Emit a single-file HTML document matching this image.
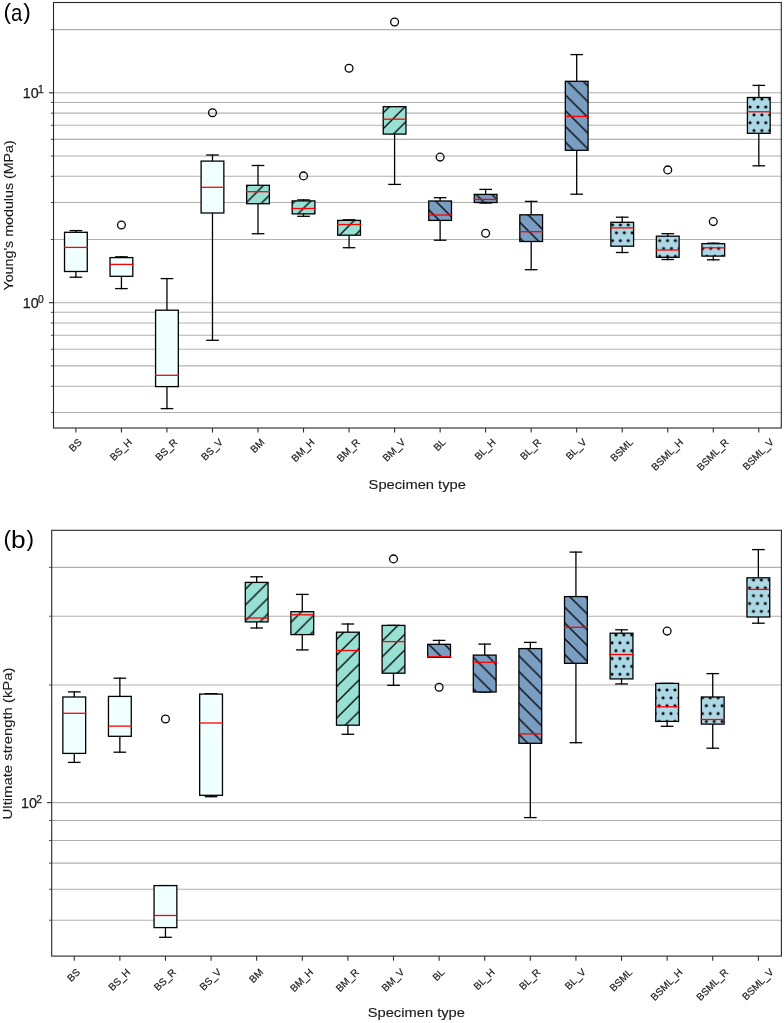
<!DOCTYPE html><html><head><meta charset="utf-8"><style>html,body{margin:0;padding:0;background:#fff;} svg{display:block;will-change:transform;} text{font-family:"Liberation Sans",sans-serif;fill:#1a1a1a;stroke:#1a1a1a;stroke-width:0.25px;} .xt{stroke-width:0.2px;} .al{stroke-width:0.12px;}</style></head><body>
<svg width="784" height="1023" viewBox="0 0 784 1023">
<rect width="784" height="1023" fill="#fff"/>
<defs>
<pattern id="dotsa" patternUnits="userSpaceOnUse" x="754.0" y="99.1" width="7.86" height="15.72"><circle cx="0" cy="0" r="1.55" fill="#000"/><circle cx="7.86" cy="0" r="1.55" fill="#000"/><circle cx="0" cy="15.72" r="1.55" fill="#000"/><circle cx="7.86" cy="15.72" r="1.55" fill="#000"/><circle cx="3.93" cy="7.86" r="1.55" fill="#000"/></pattern>
<pattern id="nea" patternUnits="userSpaceOnUse" x="3.8" y="5.0" width="15.72" height="15.72"><path d="M-1,1 L1,-1 M0,15.72 L15.72,0 M14.72,16.72 L16.72,14.72" stroke="#000" stroke-width="1.3"/></pattern>
<pattern id="nwa" patternUnits="userSpaceOnUse" x="3.8" y="5.0" width="15.72" height="15.72"><path d="M-1,14.72 L1,16.72 M0,0 L15.72,15.72 M14.72,-1 L16.72,1" stroke="#000" stroke-width="1.3"/></pattern>
<pattern id="dotsb" patternUnits="userSpaceOnUse" x="753.5" y="579.9" width="7.86" height="15.72"><circle cx="0" cy="0" r="1.55" fill="#000"/><circle cx="7.86" cy="0" r="1.55" fill="#000"/><circle cx="0" cy="15.72" r="1.55" fill="#000"/><circle cx="7.86" cy="15.72" r="1.55" fill="#000"/><circle cx="3.93" cy="7.86" r="1.55" fill="#000"/></pattern>
<pattern id="neb" patternUnits="userSpaceOnUse" x="3.05" y="-1.55" width="15.72" height="15.72"><path d="M-1,1 L1,-1 M0,15.72 L15.72,0 M14.72,16.72 L16.72,14.72" stroke="#000" stroke-width="1.3"/></pattern>
<pattern id="nwb" patternUnits="userSpaceOnUse" x="3.05" y="-1.55" width="15.72" height="15.72"><path d="M-1,14.72 L1,16.72 M0,0 L15.72,15.72 M14.72,-1 L16.72,1" stroke="#000" stroke-width="1.3"/></pattern>
</defs>
<line x1="53.5" y1="302.70" x2="781.3" y2="302.70" stroke="#b0b0b0" stroke-width="1.05"/>
<line x1="53.5" y1="92.80" x2="781.3" y2="92.80" stroke="#b0b0b0" stroke-width="1.05"/>
<line x1="53.5" y1="412.45" x2="781.3" y2="412.45" stroke="#b0b0b0" stroke-width="1.05"/>
<line x1="53.5" y1="386.23" x2="781.3" y2="386.23" stroke="#b0b0b0" stroke-width="1.05"/>
<line x1="53.5" y1="365.89" x2="781.3" y2="365.89" stroke="#b0b0b0" stroke-width="1.05"/>
<line x1="53.5" y1="349.27" x2="781.3" y2="349.27" stroke="#b0b0b0" stroke-width="1.05"/>
<line x1="53.5" y1="335.21" x2="781.3" y2="335.21" stroke="#b0b0b0" stroke-width="1.05"/>
<line x1="53.5" y1="323.04" x2="781.3" y2="323.04" stroke="#b0b0b0" stroke-width="1.05"/>
<line x1="53.5" y1="312.30" x2="781.3" y2="312.30" stroke="#b0b0b0" stroke-width="1.05"/>
<line x1="53.5" y1="239.51" x2="781.3" y2="239.51" stroke="#b0b0b0" stroke-width="1.05"/>
<line x1="53.5" y1="202.55" x2="781.3" y2="202.55" stroke="#b0b0b0" stroke-width="1.05"/>
<line x1="53.5" y1="176.33" x2="781.3" y2="176.33" stroke="#b0b0b0" stroke-width="1.05"/>
<line x1="53.5" y1="155.99" x2="781.3" y2="155.99" stroke="#b0b0b0" stroke-width="1.05"/>
<line x1="53.5" y1="139.37" x2="781.3" y2="139.37" stroke="#b0b0b0" stroke-width="1.05"/>
<line x1="53.5" y1="125.31" x2="781.3" y2="125.31" stroke="#b0b0b0" stroke-width="1.05"/>
<line x1="53.5" y1="113.14" x2="781.3" y2="113.14" stroke="#b0b0b0" stroke-width="1.05"/>
<line x1="53.5" y1="102.40" x2="781.3" y2="102.40" stroke="#b0b0b0" stroke-width="1.05"/>
<line x1="53.5" y1="29.61" x2="781.3" y2="29.61" stroke="#b0b0b0" stroke-width="1.05"/>
<line x1="75.90" y1="230.6" x2="75.90" y2="232.3" stroke="#000" stroke-width="1.3" stroke-linecap="square"/>
<line x1="75.90" y1="271.5" x2="75.90" y2="277.2" stroke="#000" stroke-width="1.3" stroke-linecap="square"/>
<line x1="70.21" y1="230.6" x2="81.59" y2="230.6" stroke="#000" stroke-width="1.3" stroke-linecap="square"/>
<line x1="70.21" y1="277.2" x2="81.59" y2="277.2" stroke="#000" stroke-width="1.3" stroke-linecap="square"/>
<rect x="64.53" y="232.3" width="22.74" height="39.20" fill="#f0ffff"/>
<rect x="64.53" y="232.3" width="22.74" height="39.20" fill="none" stroke="#000" stroke-width="1.3"/>
<line x1="64.53" y1="247.4" x2="87.27" y2="247.4" stroke="#ff0000" stroke-width="1.3" stroke-linecap="square"/>
<line x1="121.43" y1="256.8" x2="121.43" y2="257.6" stroke="#000" stroke-width="1.3" stroke-linecap="square"/>
<line x1="121.43" y1="276.3" x2="121.43" y2="288.6" stroke="#000" stroke-width="1.3" stroke-linecap="square"/>
<line x1="115.74" y1="256.8" x2="127.11" y2="256.8" stroke="#000" stroke-width="1.3" stroke-linecap="square"/>
<line x1="115.74" y1="288.6" x2="127.11" y2="288.6" stroke="#000" stroke-width="1.3" stroke-linecap="square"/>
<rect x="110.06" y="257.6" width="22.74" height="18.70" fill="#f0ffff"/>
<rect x="110.06" y="257.6" width="22.74" height="18.70" fill="none" stroke="#000" stroke-width="1.3"/>
<line x1="110.06" y1="264.4" x2="132.80" y2="264.4" stroke="#ff0000" stroke-width="1.3" stroke-linecap="square"/>
<circle cx="121.43" cy="225.0" r="3.9" fill="none" stroke="#000" stroke-width="1.3"/>
<line x1="166.95" y1="278.6" x2="166.95" y2="310.2" stroke="#000" stroke-width="1.3" stroke-linecap="square"/>
<line x1="166.95" y1="386.6" x2="166.95" y2="408.6" stroke="#000" stroke-width="1.3" stroke-linecap="square"/>
<line x1="161.27" y1="278.6" x2="172.64" y2="278.6" stroke="#000" stroke-width="1.3" stroke-linecap="square"/>
<line x1="161.27" y1="408.6" x2="172.64" y2="408.6" stroke="#000" stroke-width="1.3" stroke-linecap="square"/>
<rect x="155.58" y="310.2" width="22.74" height="76.40" fill="#f0ffff"/>
<rect x="155.58" y="310.2" width="22.74" height="76.40" fill="none" stroke="#000" stroke-width="1.3"/>
<line x1="155.58" y1="375.3" x2="178.33" y2="375.3" stroke="#ff0000" stroke-width="1.3" stroke-linecap="square"/>
<line x1="212.48" y1="155.0" x2="212.48" y2="161.1" stroke="#000" stroke-width="1.3" stroke-linecap="square"/>
<line x1="212.48" y1="213.0" x2="212.48" y2="340.3" stroke="#000" stroke-width="1.3" stroke-linecap="square"/>
<line x1="206.80" y1="155.0" x2="218.17" y2="155.0" stroke="#000" stroke-width="1.3" stroke-linecap="square"/>
<line x1="206.80" y1="340.3" x2="218.17" y2="340.3" stroke="#000" stroke-width="1.3" stroke-linecap="square"/>
<rect x="201.11" y="161.1" width="22.74" height="51.90" fill="#f0ffff"/>
<rect x="201.11" y="161.1" width="22.74" height="51.90" fill="none" stroke="#000" stroke-width="1.3"/>
<line x1="201.11" y1="187.3" x2="223.85" y2="187.3" stroke="#ff0000" stroke-width="1.3" stroke-linecap="square"/>
<circle cx="212.48" cy="112.7" r="3.9" fill="none" stroke="#000" stroke-width="1.3"/>
<line x1="258.01" y1="165.5" x2="258.01" y2="185.3" stroke="#000" stroke-width="1.3" stroke-linecap="square"/>
<line x1="258.01" y1="203.7" x2="258.01" y2="233.7" stroke="#000" stroke-width="1.3" stroke-linecap="square"/>
<line x1="252.32" y1="165.5" x2="263.69" y2="165.5" stroke="#000" stroke-width="1.3" stroke-linecap="square"/>
<line x1="252.32" y1="233.7" x2="263.69" y2="233.7" stroke="#000" stroke-width="1.3" stroke-linecap="square"/>
<rect x="246.64" y="185.3" width="22.74" height="18.40" fill="#98e0d4"/>
<rect x="246.64" y="185.3" width="22.74" height="18.40" fill="url(#nea)"/>
<rect x="246.64" y="185.3" width="22.74" height="18.40" fill="none" stroke="#000" stroke-width="1.3"/>
<line x1="246.64" y1="191.7" x2="269.38" y2="191.7" stroke="#ff0000" stroke-width="1.3" stroke-linecap="square"/>
<line x1="303.53" y1="199.9" x2="303.53" y2="200.9" stroke="#000" stroke-width="1.3" stroke-linecap="square"/>
<line x1="303.53" y1="213.9" x2="303.53" y2="216.3" stroke="#000" stroke-width="1.3" stroke-linecap="square"/>
<line x1="297.85" y1="199.9" x2="309.22" y2="199.9" stroke="#000" stroke-width="1.3" stroke-linecap="square"/>
<line x1="297.85" y1="216.3" x2="309.22" y2="216.3" stroke="#000" stroke-width="1.3" stroke-linecap="square"/>
<rect x="292.16" y="200.9" width="22.74" height="13.00" fill="#98e0d4"/>
<rect x="292.16" y="200.9" width="22.74" height="13.00" fill="url(#nea)"/>
<rect x="292.16" y="200.9" width="22.74" height="13.00" fill="none" stroke="#000" stroke-width="1.3"/>
<line x1="292.16" y1="208.5" x2="314.91" y2="208.5" stroke="#ff0000" stroke-width="1.3" stroke-linecap="square"/>
<circle cx="303.53" cy="175.9" r="3.9" fill="none" stroke="#000" stroke-width="1.3"/>
<line x1="349.06" y1="219.8" x2="349.06" y2="220.4" stroke="#000" stroke-width="1.3" stroke-linecap="square"/>
<line x1="349.06" y1="235.2" x2="349.06" y2="247.7" stroke="#000" stroke-width="1.3" stroke-linecap="square"/>
<line x1="343.38" y1="219.8" x2="354.75" y2="219.8" stroke="#000" stroke-width="1.3" stroke-linecap="square"/>
<line x1="343.38" y1="247.7" x2="354.75" y2="247.7" stroke="#000" stroke-width="1.3" stroke-linecap="square"/>
<rect x="337.69" y="220.4" width="22.74" height="14.80" fill="#98e0d4"/>
<rect x="337.69" y="220.4" width="22.74" height="14.80" fill="url(#nea)"/>
<rect x="337.69" y="220.4" width="22.74" height="14.80" fill="none" stroke="#000" stroke-width="1.3"/>
<line x1="337.69" y1="224.5" x2="360.43" y2="224.5" stroke="#ff0000" stroke-width="1.3" stroke-linecap="square"/>
<circle cx="349.06" cy="68.3" r="3.9" fill="none" stroke="#000" stroke-width="1.3"/>
<line x1="394.59" y1="106.7" x2="394.59" y2="106.7" stroke="#000" stroke-width="1.3" stroke-linecap="square"/>
<line x1="394.59" y1="134.1" x2="394.59" y2="184.4" stroke="#000" stroke-width="1.3" stroke-linecap="square"/>
<line x1="388.90" y1="106.7" x2="400.27" y2="106.7" stroke="#000" stroke-width="1.3" stroke-linecap="square"/>
<line x1="388.90" y1="184.4" x2="400.27" y2="184.4" stroke="#000" stroke-width="1.3" stroke-linecap="square"/>
<rect x="383.22" y="106.7" width="22.74" height="27.40" fill="#98e0d4"/>
<rect x="383.22" y="106.7" width="22.74" height="27.40" fill="url(#nea)"/>
<rect x="383.22" y="106.7" width="22.74" height="27.40" fill="none" stroke="#000" stroke-width="1.3"/>
<line x1="383.22" y1="119.2" x2="405.96" y2="119.2" stroke="#ff0000" stroke-width="1.3" stroke-linecap="square"/>
<circle cx="394.59" cy="22.0" r="3.9" fill="none" stroke="#000" stroke-width="1.3"/>
<line x1="440.12" y1="197.7" x2="440.12" y2="201.0" stroke="#000" stroke-width="1.3" stroke-linecap="square"/>
<line x1="440.12" y1="220.4" x2="440.12" y2="240.2" stroke="#000" stroke-width="1.3" stroke-linecap="square"/>
<line x1="434.43" y1="197.7" x2="445.80" y2="197.7" stroke="#000" stroke-width="1.3" stroke-linecap="square"/>
<line x1="434.43" y1="240.2" x2="445.80" y2="240.2" stroke="#000" stroke-width="1.3" stroke-linecap="square"/>
<rect x="428.74" y="201.0" width="22.74" height="19.40" fill="#7a9ec2"/>
<rect x="428.74" y="201.0" width="22.74" height="19.40" fill="url(#nwa)"/>
<rect x="428.74" y="201.0" width="22.74" height="19.40" fill="none" stroke="#000" stroke-width="1.3"/>
<line x1="428.74" y1="215.0" x2="451.49" y2="215.0" stroke="#ff0000" stroke-width="1.3" stroke-linecap="square"/>
<circle cx="440.12" cy="157.1" r="3.9" fill="none" stroke="#000" stroke-width="1.3"/>
<line x1="485.64" y1="189.4" x2="485.64" y2="194.4" stroke="#000" stroke-width="1.3" stroke-linecap="square"/>
<line x1="485.64" y1="202.5" x2="485.64" y2="203.0" stroke="#000" stroke-width="1.3" stroke-linecap="square"/>
<line x1="479.96" y1="189.4" x2="491.33" y2="189.4" stroke="#000" stroke-width="1.3" stroke-linecap="square"/>
<line x1="479.96" y1="203.0" x2="491.33" y2="203.0" stroke="#000" stroke-width="1.3" stroke-linecap="square"/>
<rect x="474.27" y="194.4" width="22.74" height="8.10" fill="#7a9ec2"/>
<rect x="474.27" y="194.4" width="22.74" height="8.10" fill="url(#nwa)"/>
<rect x="474.27" y="194.4" width="22.74" height="8.10" fill="none" stroke="#000" stroke-width="1.3"/>
<line x1="474.27" y1="199.4" x2="497.01" y2="199.4" stroke="#ff0000" stroke-width="1.3" stroke-linecap="square"/>
<circle cx="485.64" cy="233.2" r="3.9" fill="none" stroke="#000" stroke-width="1.3"/>
<line x1="531.17" y1="201.4" x2="531.17" y2="214.8" stroke="#000" stroke-width="1.3" stroke-linecap="square"/>
<line x1="531.17" y1="241.5" x2="531.17" y2="269.7" stroke="#000" stroke-width="1.3" stroke-linecap="square"/>
<line x1="525.48" y1="201.4" x2="536.86" y2="201.4" stroke="#000" stroke-width="1.3" stroke-linecap="square"/>
<line x1="525.48" y1="269.7" x2="536.86" y2="269.7" stroke="#000" stroke-width="1.3" stroke-linecap="square"/>
<rect x="519.80" y="214.8" width="22.74" height="26.70" fill="#7a9ec2"/>
<rect x="519.80" y="214.8" width="22.74" height="26.70" fill="url(#nwa)"/>
<rect x="519.80" y="214.8" width="22.74" height="26.70" fill="none" stroke="#000" stroke-width="1.3"/>
<line x1="519.80" y1="231.7" x2="542.54" y2="231.7" stroke="#ff0000" stroke-width="1.3" stroke-linecap="square"/>
<line x1="576.70" y1="54.6" x2="576.70" y2="81.3" stroke="#000" stroke-width="1.3" stroke-linecap="square"/>
<line x1="576.70" y1="150.3" x2="576.70" y2="194.2" stroke="#000" stroke-width="1.3" stroke-linecap="square"/>
<line x1="571.01" y1="54.6" x2="582.38" y2="54.6" stroke="#000" stroke-width="1.3" stroke-linecap="square"/>
<line x1="571.01" y1="194.2" x2="582.38" y2="194.2" stroke="#000" stroke-width="1.3" stroke-linecap="square"/>
<rect x="565.33" y="81.3" width="22.74" height="69.00" fill="#7a9ec2"/>
<rect x="565.33" y="81.3" width="22.74" height="69.00" fill="url(#nwa)"/>
<rect x="565.33" y="81.3" width="22.74" height="69.00" fill="none" stroke="#000" stroke-width="1.3"/>
<line x1="565.33" y1="116.4" x2="588.07" y2="116.4" stroke="#ff0000" stroke-width="1.3" stroke-linecap="square"/>
<line x1="622.22" y1="217.2" x2="622.22" y2="222.3" stroke="#000" stroke-width="1.3" stroke-linecap="square"/>
<line x1="622.22" y1="246.2" x2="622.22" y2="252.5" stroke="#000" stroke-width="1.3" stroke-linecap="square"/>
<line x1="616.54" y1="217.2" x2="627.91" y2="217.2" stroke="#000" stroke-width="1.3" stroke-linecap="square"/>
<line x1="616.54" y1="252.5" x2="627.91" y2="252.5" stroke="#000" stroke-width="1.3" stroke-linecap="square"/>
<rect x="610.85" y="222.3" width="22.74" height="23.90" fill="#add8e6"/>
<rect x="610.85" y="222.3" width="22.74" height="23.90" fill="url(#dotsa)"/>
<rect x="610.85" y="222.3" width="22.74" height="23.90" fill="none" stroke="#000" stroke-width="1.3"/>
<line x1="610.85" y1="227.9" x2="633.60" y2="227.9" stroke="#ff0000" stroke-width="1.3" stroke-linecap="square"/>
<line x1="667.75" y1="233.7" x2="667.75" y2="236.2" stroke="#000" stroke-width="1.3" stroke-linecap="square"/>
<line x1="667.75" y1="257.3" x2="667.75" y2="259.5" stroke="#000" stroke-width="1.3" stroke-linecap="square"/>
<line x1="662.07" y1="233.7" x2="673.44" y2="233.7" stroke="#000" stroke-width="1.3" stroke-linecap="square"/>
<line x1="662.07" y1="259.5" x2="673.44" y2="259.5" stroke="#000" stroke-width="1.3" stroke-linecap="square"/>
<rect x="656.38" y="236.2" width="22.74" height="21.10" fill="#add8e6"/>
<rect x="656.38" y="236.2" width="22.74" height="21.10" fill="url(#dotsa)"/>
<rect x="656.38" y="236.2" width="22.74" height="21.10" fill="none" stroke="#000" stroke-width="1.3"/>
<line x1="656.38" y1="250.0" x2="679.12" y2="250.0" stroke="#ff0000" stroke-width="1.3" stroke-linecap="square"/>
<circle cx="667.75" cy="169.9" r="3.9" fill="none" stroke="#000" stroke-width="1.3"/>
<line x1="713.28" y1="243.2" x2="713.28" y2="243.7" stroke="#000" stroke-width="1.3" stroke-linecap="square"/>
<line x1="713.28" y1="256.1" x2="713.28" y2="259.8" stroke="#000" stroke-width="1.3" stroke-linecap="square"/>
<line x1="707.59" y1="243.2" x2="718.96" y2="243.2" stroke="#000" stroke-width="1.3" stroke-linecap="square"/>
<line x1="707.59" y1="259.8" x2="718.96" y2="259.8" stroke="#000" stroke-width="1.3" stroke-linecap="square"/>
<rect x="701.91" y="243.7" width="22.74" height="12.40" fill="#add8e6"/>
<rect x="701.91" y="243.7" width="22.74" height="12.40" fill="url(#dotsa)"/>
<rect x="701.91" y="243.7" width="22.74" height="12.40" fill="none" stroke="#000" stroke-width="1.3"/>
<line x1="701.91" y1="247.8" x2="724.65" y2="247.8" stroke="#ff0000" stroke-width="1.3" stroke-linecap="square"/>
<circle cx="713.28" cy="221.6" r="3.9" fill="none" stroke="#000" stroke-width="1.3"/>
<line x1="758.80" y1="85.4" x2="758.80" y2="97.5" stroke="#000" stroke-width="1.3" stroke-linecap="square"/>
<line x1="758.80" y1="133.3" x2="758.80" y2="165.8" stroke="#000" stroke-width="1.3" stroke-linecap="square"/>
<line x1="753.12" y1="85.4" x2="764.49" y2="85.4" stroke="#000" stroke-width="1.3" stroke-linecap="square"/>
<line x1="753.12" y1="165.8" x2="764.49" y2="165.8" stroke="#000" stroke-width="1.3" stroke-linecap="square"/>
<rect x="747.43" y="97.5" width="22.74" height="35.80" fill="#add8e6"/>
<rect x="747.43" y="97.5" width="22.74" height="35.80" fill="url(#dotsa)"/>
<rect x="747.43" y="97.5" width="22.74" height="35.80" fill="none" stroke="#000" stroke-width="1.3"/>
<line x1="747.43" y1="111.8" x2="770.18" y2="111.8" stroke="#ff0000" stroke-width="1.3" stroke-linecap="square"/>
<rect x="53.5" y="2.5" width="727.8" height="425.5" fill="none" stroke="#262626" stroke-width="1.1"/>
<line x1="48.9" y1="302.70" x2="53.5" y2="302.70" stroke="#262626" stroke-width="1.05"/>
<line x1="48.9" y1="92.80" x2="53.5" y2="92.80" stroke="#262626" stroke-width="1.05"/>
<line x1="50.8" y1="412.45" x2="53.5" y2="412.45" stroke="#262626" stroke-width="0.8"/>
<line x1="50.8" y1="386.23" x2="53.5" y2="386.23" stroke="#262626" stroke-width="0.8"/>
<line x1="50.8" y1="365.89" x2="53.5" y2="365.89" stroke="#262626" stroke-width="0.8"/>
<line x1="50.8" y1="349.27" x2="53.5" y2="349.27" stroke="#262626" stroke-width="0.8"/>
<line x1="50.8" y1="335.21" x2="53.5" y2="335.21" stroke="#262626" stroke-width="0.8"/>
<line x1="50.8" y1="323.04" x2="53.5" y2="323.04" stroke="#262626" stroke-width="0.8"/>
<line x1="50.8" y1="312.30" x2="53.5" y2="312.30" stroke="#262626" stroke-width="0.8"/>
<line x1="50.8" y1="239.51" x2="53.5" y2="239.51" stroke="#262626" stroke-width="0.8"/>
<line x1="50.8" y1="202.55" x2="53.5" y2="202.55" stroke="#262626" stroke-width="0.8"/>
<line x1="50.8" y1="176.33" x2="53.5" y2="176.33" stroke="#262626" stroke-width="0.8"/>
<line x1="50.8" y1="155.99" x2="53.5" y2="155.99" stroke="#262626" stroke-width="0.8"/>
<line x1="50.8" y1="139.37" x2="53.5" y2="139.37" stroke="#262626" stroke-width="0.8"/>
<line x1="50.8" y1="125.31" x2="53.5" y2="125.31" stroke="#262626" stroke-width="0.8"/>
<line x1="50.8" y1="113.14" x2="53.5" y2="113.14" stroke="#262626" stroke-width="0.8"/>
<line x1="50.8" y1="102.40" x2="53.5" y2="102.40" stroke="#262626" stroke-width="0.8"/>
<line x1="50.8" y1="29.61" x2="53.5" y2="29.61" stroke="#262626" stroke-width="0.8"/>
<text x="22.80" y="307.50" font-size="14.6" textLength="16.0" lengthAdjust="spacingAndGlyphs" class="tl">10</text>
<text x="43.80" y="303.10" text-anchor="end" font-size="10.3" class="tl">0</text>
<text x="22.80" y="97.60" font-size="14.6" textLength="16.0" lengthAdjust="spacingAndGlyphs" class="tl">10</text>
<text x="43.80" y="93.20" text-anchor="end" font-size="10.3" class="tl">1</text>
<line x1="75.90" y1="428.0" x2="75.90" y2="432.6" stroke="#262626" stroke-width="1.05"/>
<text class="xt" transform="translate(77.74,447.59) rotate(-45)" text-anchor="middle" font-size="10.0">BS</text>
<line x1="121.43" y1="428.0" x2="121.43" y2="432.6" stroke="#262626" stroke-width="1.05"/>
<text class="xt" transform="translate(123.27,452.11) rotate(-45)" text-anchor="middle" font-size="10.0">BS_H</text>
<line x1="166.95" y1="428.0" x2="166.95" y2="432.6" stroke="#262626" stroke-width="1.05"/>
<text class="xt" transform="translate(168.79,452.11) rotate(-45)" text-anchor="middle" font-size="10.0">BS_R</text>
<line x1="212.48" y1="428.0" x2="212.48" y2="432.6" stroke="#262626" stroke-width="1.05"/>
<text class="xt" transform="translate(214.32,451.92) rotate(-45)" text-anchor="middle" font-size="10.0">BS_V</text>
<line x1="258.01" y1="428.0" x2="258.01" y2="432.6" stroke="#262626" stroke-width="1.05"/>
<text class="xt" transform="translate(259.85,448.18) rotate(-45)" text-anchor="middle" font-size="10.0">BM</text>
<line x1="303.53" y1="428.0" x2="303.53" y2="432.6" stroke="#262626" stroke-width="1.05"/>
<text class="xt" transform="translate(305.37,452.70) rotate(-45)" text-anchor="middle" font-size="10.0">BM_H</text>
<line x1="349.06" y1="428.0" x2="349.06" y2="432.6" stroke="#262626" stroke-width="1.05"/>
<text class="xt" transform="translate(350.90,452.70) rotate(-45)" text-anchor="middle" font-size="10.0">BM_R</text>
<line x1="394.59" y1="428.0" x2="394.59" y2="432.6" stroke="#262626" stroke-width="1.05"/>
<text class="xt" transform="translate(396.43,452.50) rotate(-45)" text-anchor="middle" font-size="10.0">BM_V</text>
<line x1="440.12" y1="428.0" x2="440.12" y2="432.6" stroke="#262626" stroke-width="1.05"/>
<text class="xt" transform="translate(441.96,447.20) rotate(-45)" text-anchor="middle" font-size="10.0">BL</text>
<line x1="485.64" y1="428.0" x2="485.64" y2="432.6" stroke="#262626" stroke-width="1.05"/>
<text class="xt" transform="translate(487.48,451.72) rotate(-45)" text-anchor="middle" font-size="10.0">BL_H</text>
<line x1="531.17" y1="428.0" x2="531.17" y2="432.6" stroke="#262626" stroke-width="1.05"/>
<text class="xt" transform="translate(533.01,451.72) rotate(-45)" text-anchor="middle" font-size="10.0">BL_R</text>
<line x1="576.70" y1="428.0" x2="576.70" y2="432.6" stroke="#262626" stroke-width="1.05"/>
<text class="xt" transform="translate(578.54,451.52) rotate(-45)" text-anchor="middle" font-size="10.0">BL_V</text>
<line x1="622.22" y1="428.0" x2="622.22" y2="432.6" stroke="#262626" stroke-width="1.05"/>
<text class="xt" transform="translate(624.06,452.50) rotate(-45)" text-anchor="middle" font-size="10.0">BSML</text>
<line x1="667.75" y1="428.0" x2="667.75" y2="432.6" stroke="#262626" stroke-width="1.05"/>
<text class="xt" transform="translate(669.59,457.02) rotate(-45)" text-anchor="middle" font-size="10.0">BSML_H</text>
<line x1="713.28" y1="428.0" x2="713.28" y2="432.6" stroke="#262626" stroke-width="1.05"/>
<text class="xt" transform="translate(715.12,457.02) rotate(-45)" text-anchor="middle" font-size="10.0">BSML_R</text>
<line x1="758.80" y1="428.0" x2="758.80" y2="432.6" stroke="#262626" stroke-width="1.05"/>
<text class="xt" transform="translate(760.64,456.83) rotate(-45)" text-anchor="middle" font-size="10.0">BSML_V</text>
<text x="368.6" y="489.1" font-size="13.6" textLength="97.3" lengthAdjust="spacingAndGlyphs" class="al">Specimen type</text>
<text transform="translate(13.4,290.5) rotate(-90)" font-size="13.6" textLength="150.3" lengthAdjust="spacingAndGlyphs" class="al">Young's modulus (MPa)</text>
<text x="3.4" y="19.10" font-size="22.6" style="stroke:none;fill:#000">(</text>
<text x="11.0" y="20.90" font-size="23.8" textLength="11.3" lengthAdjust="spacingAndGlyphs" style="stroke:none;fill:#000">a</text>
<text x="23.20" y="19.10" font-size="22.6" style="stroke:none;fill:#000">)</text>
<line x1="51.7" y1="802.60" x2="781.4" y2="802.60" stroke="#b0b0b0" stroke-width="1.05"/>
<line x1="51.7" y1="920.21" x2="781.4" y2="920.21" stroke="#b0b0b0" stroke-width="1.05"/>
<line x1="51.7" y1="889.28" x2="781.4" y2="889.28" stroke="#b0b0b0" stroke-width="1.05"/>
<line x1="51.7" y1="863.12" x2="781.4" y2="863.12" stroke="#b0b0b0" stroke-width="1.05"/>
<line x1="51.7" y1="840.46" x2="781.4" y2="840.46" stroke="#b0b0b0" stroke-width="1.05"/>
<line x1="51.7" y1="820.48" x2="781.4" y2="820.48" stroke="#b0b0b0" stroke-width="1.05"/>
<line x1="51.7" y1="684.99" x2="781.4" y2="684.99" stroke="#b0b0b0" stroke-width="1.05"/>
<line x1="51.7" y1="616.19" x2="781.4" y2="616.19" stroke="#b0b0b0" stroke-width="1.05"/>
<line x1="51.7" y1="567.38" x2="781.4" y2="567.38" stroke="#b0b0b0" stroke-width="1.05"/>
<line x1="74.25" y1="691.9" x2="74.25" y2="697.0" stroke="#000" stroke-width="1.3" stroke-linecap="square"/>
<line x1="74.25" y1="753.4" x2="74.25" y2="762.4" stroke="#000" stroke-width="1.3" stroke-linecap="square"/>
<line x1="68.55" y1="691.9" x2="79.95" y2="691.9" stroke="#000" stroke-width="1.3" stroke-linecap="square"/>
<line x1="68.55" y1="762.4" x2="79.95" y2="762.4" stroke="#000" stroke-width="1.3" stroke-linecap="square"/>
<rect x="62.85" y="697.0" width="22.80" height="56.40" fill="#f0ffff"/>
<rect x="62.85" y="697.0" width="22.80" height="56.40" fill="none" stroke="#000" stroke-width="1.3"/>
<line x1="62.85" y1="713.3" x2="85.65" y2="713.3" stroke="#ff0000" stroke-width="1.3" stroke-linecap="square"/>
<line x1="119.86" y1="678.2" x2="119.86" y2="696.4" stroke="#000" stroke-width="1.3" stroke-linecap="square"/>
<line x1="119.86" y1="736.3" x2="119.86" y2="752.2" stroke="#000" stroke-width="1.3" stroke-linecap="square"/>
<line x1="114.16" y1="678.2" x2="125.56" y2="678.2" stroke="#000" stroke-width="1.3" stroke-linecap="square"/>
<line x1="114.16" y1="752.2" x2="125.56" y2="752.2" stroke="#000" stroke-width="1.3" stroke-linecap="square"/>
<rect x="108.46" y="696.4" width="22.80" height="39.90" fill="#f0ffff"/>
<rect x="108.46" y="696.4" width="22.80" height="39.90" fill="none" stroke="#000" stroke-width="1.3"/>
<line x1="108.46" y1="726.1" x2="131.26" y2="726.1" stroke="#ff0000" stroke-width="1.3" stroke-linecap="square"/>
<line x1="165.46" y1="885.6" x2="165.46" y2="885.6" stroke="#000" stroke-width="1.3" stroke-linecap="square"/>
<line x1="165.46" y1="927.6" x2="165.46" y2="937.3" stroke="#000" stroke-width="1.3" stroke-linecap="square"/>
<line x1="159.76" y1="885.6" x2="171.16" y2="885.6" stroke="#000" stroke-width="1.3" stroke-linecap="square"/>
<line x1="159.76" y1="937.3" x2="171.16" y2="937.3" stroke="#000" stroke-width="1.3" stroke-linecap="square"/>
<rect x="154.06" y="885.6" width="22.80" height="42.00" fill="#f0ffff"/>
<rect x="154.06" y="885.6" width="22.80" height="42.00" fill="none" stroke="#000" stroke-width="1.3"/>
<line x1="154.06" y1="915.5" x2="176.87" y2="915.5" stroke="#ff0000" stroke-width="1.3" stroke-linecap="square"/>
<circle cx="165.46" cy="719.0" r="3.9" fill="none" stroke="#000" stroke-width="1.3"/>
<line x1="211.07" y1="693.7" x2="211.07" y2="694.1" stroke="#000" stroke-width="1.3" stroke-linecap="square"/>
<line x1="211.07" y1="795.3" x2="211.07" y2="796.7" stroke="#000" stroke-width="1.3" stroke-linecap="square"/>
<line x1="205.37" y1="693.7" x2="216.77" y2="693.7" stroke="#000" stroke-width="1.3" stroke-linecap="square"/>
<line x1="205.37" y1="796.7" x2="216.77" y2="796.7" stroke="#000" stroke-width="1.3" stroke-linecap="square"/>
<rect x="199.67" y="694.1" width="22.80" height="101.20" fill="#f0ffff"/>
<rect x="199.67" y="694.1" width="22.80" height="101.20" fill="none" stroke="#000" stroke-width="1.3"/>
<line x1="199.67" y1="723.0" x2="222.47" y2="723.0" stroke="#ff0000" stroke-width="1.3" stroke-linecap="square"/>
<line x1="256.68" y1="576.8" x2="256.68" y2="582.4" stroke="#000" stroke-width="1.3" stroke-linecap="square"/>
<line x1="256.68" y1="621.9" x2="256.68" y2="628.0" stroke="#000" stroke-width="1.3" stroke-linecap="square"/>
<line x1="250.98" y1="576.8" x2="262.38" y2="576.8" stroke="#000" stroke-width="1.3" stroke-linecap="square"/>
<line x1="250.98" y1="628.0" x2="262.38" y2="628.0" stroke="#000" stroke-width="1.3" stroke-linecap="square"/>
<rect x="245.28" y="582.4" width="22.80" height="39.50" fill="#98e0d4"/>
<rect x="245.28" y="582.4" width="22.80" height="39.50" fill="url(#neb)"/>
<rect x="245.28" y="582.4" width="22.80" height="39.50" fill="none" stroke="#000" stroke-width="1.3"/>
<line x1="245.28" y1="618.0" x2="268.08" y2="618.0" stroke="#ff0000" stroke-width="1.3" stroke-linecap="square"/>
<line x1="302.28" y1="594.4" x2="302.28" y2="611.7" stroke="#000" stroke-width="1.3" stroke-linecap="square"/>
<line x1="302.28" y1="634.6" x2="302.28" y2="649.9" stroke="#000" stroke-width="1.3" stroke-linecap="square"/>
<line x1="296.58" y1="594.4" x2="307.99" y2="594.4" stroke="#000" stroke-width="1.3" stroke-linecap="square"/>
<line x1="296.58" y1="649.9" x2="307.99" y2="649.9" stroke="#000" stroke-width="1.3" stroke-linecap="square"/>
<rect x="290.88" y="611.7" width="22.80" height="22.90" fill="#98e0d4"/>
<rect x="290.88" y="611.7" width="22.80" height="22.90" fill="url(#neb)"/>
<rect x="290.88" y="611.7" width="22.80" height="22.90" fill="none" stroke="#000" stroke-width="1.3"/>
<line x1="290.88" y1="614.8" x2="313.69" y2="614.8" stroke="#ff0000" stroke-width="1.3" stroke-linecap="square"/>
<line x1="347.89" y1="624.0" x2="347.89" y2="632.2" stroke="#000" stroke-width="1.3" stroke-linecap="square"/>
<line x1="347.89" y1="725.2" x2="347.89" y2="734.3" stroke="#000" stroke-width="1.3" stroke-linecap="square"/>
<line x1="342.19" y1="624.0" x2="353.59" y2="624.0" stroke="#000" stroke-width="1.3" stroke-linecap="square"/>
<line x1="342.19" y1="734.3" x2="353.59" y2="734.3" stroke="#000" stroke-width="1.3" stroke-linecap="square"/>
<rect x="336.49" y="632.2" width="22.80" height="93.00" fill="#98e0d4"/>
<rect x="336.49" y="632.2" width="22.80" height="93.00" fill="url(#neb)"/>
<rect x="336.49" y="632.2" width="22.80" height="93.00" fill="none" stroke="#000" stroke-width="1.3"/>
<line x1="336.49" y1="650.5" x2="359.29" y2="650.5" stroke="#ff0000" stroke-width="1.3" stroke-linecap="square"/>
<line x1="393.50" y1="625.4" x2="393.50" y2="625.4" stroke="#000" stroke-width="1.3" stroke-linecap="square"/>
<line x1="393.50" y1="673.2" x2="393.50" y2="685.3" stroke="#000" stroke-width="1.3" stroke-linecap="square"/>
<line x1="387.80" y1="625.4" x2="399.20" y2="625.4" stroke="#000" stroke-width="1.3" stroke-linecap="square"/>
<line x1="387.80" y1="685.3" x2="399.20" y2="685.3" stroke="#000" stroke-width="1.3" stroke-linecap="square"/>
<rect x="382.10" y="625.4" width="22.80" height="47.80" fill="#98e0d4"/>
<rect x="382.10" y="625.4" width="22.80" height="47.80" fill="url(#neb)"/>
<rect x="382.10" y="625.4" width="22.80" height="47.80" fill="none" stroke="#000" stroke-width="1.3"/>
<line x1="382.10" y1="641.6" x2="404.90" y2="641.6" stroke="#ff0000" stroke-width="1.3" stroke-linecap="square"/>
<circle cx="393.50" cy="558.9" r="3.9" fill="none" stroke="#000" stroke-width="1.3"/>
<line x1="439.11" y1="640.4" x2="439.11" y2="644.3" stroke="#000" stroke-width="1.3" stroke-linecap="square"/>
<line x1="439.11" y1="657.3" x2="439.11" y2="657.3" stroke="#000" stroke-width="1.3" stroke-linecap="square"/>
<line x1="433.41" y1="640.4" x2="444.81" y2="640.4" stroke="#000" stroke-width="1.3" stroke-linecap="square"/>
<line x1="433.41" y1="657.3" x2="444.81" y2="657.3" stroke="#000" stroke-width="1.3" stroke-linecap="square"/>
<rect x="427.70" y="644.3" width="22.80" height="13.00" fill="#7a9ec2"/>
<rect x="427.70" y="644.3" width="22.80" height="13.00" fill="url(#nwb)"/>
<rect x="427.70" y="644.3" width="22.80" height="13.00" fill="none" stroke="#000" stroke-width="1.3"/>
<line x1="427.70" y1="656.7" x2="450.51" y2="656.7" stroke="#ff0000" stroke-width="1.3" stroke-linecap="square"/>
<circle cx="439.11" cy="687.2" r="3.9" fill="none" stroke="#000" stroke-width="1.3"/>
<line x1="484.71" y1="644.1" x2="484.71" y2="655.1" stroke="#000" stroke-width="1.3" stroke-linecap="square"/>
<line x1="484.71" y1="692.0" x2="484.71" y2="692.0" stroke="#000" stroke-width="1.3" stroke-linecap="square"/>
<line x1="479.01" y1="644.1" x2="490.41" y2="644.1" stroke="#000" stroke-width="1.3" stroke-linecap="square"/>
<line x1="479.01" y1="692.0" x2="490.41" y2="692.0" stroke="#000" stroke-width="1.3" stroke-linecap="square"/>
<rect x="473.31" y="655.1" width="22.80" height="36.90" fill="#7a9ec2"/>
<rect x="473.31" y="655.1" width="22.80" height="36.90" fill="url(#nwb)"/>
<rect x="473.31" y="655.1" width="22.80" height="36.90" fill="none" stroke="#000" stroke-width="1.3"/>
<line x1="473.31" y1="662.3" x2="496.11" y2="662.3" stroke="#ff0000" stroke-width="1.3" stroke-linecap="square"/>
<line x1="530.32" y1="642.4" x2="530.32" y2="648.6" stroke="#000" stroke-width="1.3" stroke-linecap="square"/>
<line x1="530.32" y1="743.3" x2="530.32" y2="817.6" stroke="#000" stroke-width="1.3" stroke-linecap="square"/>
<line x1="524.62" y1="642.4" x2="536.02" y2="642.4" stroke="#000" stroke-width="1.3" stroke-linecap="square"/>
<line x1="524.62" y1="817.6" x2="536.02" y2="817.6" stroke="#000" stroke-width="1.3" stroke-linecap="square"/>
<rect x="518.92" y="648.6" width="22.80" height="94.70" fill="#7a9ec2"/>
<rect x="518.92" y="648.6" width="22.80" height="94.70" fill="url(#nwb)"/>
<rect x="518.92" y="648.6" width="22.80" height="94.70" fill="none" stroke="#000" stroke-width="1.3"/>
<line x1="518.92" y1="733.9" x2="541.72" y2="733.9" stroke="#ff0000" stroke-width="1.3" stroke-linecap="square"/>
<line x1="575.93" y1="552.1" x2="575.93" y2="596.6" stroke="#000" stroke-width="1.3" stroke-linecap="square"/>
<line x1="575.93" y1="663.3" x2="575.93" y2="742.7" stroke="#000" stroke-width="1.3" stroke-linecap="square"/>
<line x1="570.23" y1="552.1" x2="581.63" y2="552.1" stroke="#000" stroke-width="1.3" stroke-linecap="square"/>
<line x1="570.23" y1="742.7" x2="581.63" y2="742.7" stroke="#000" stroke-width="1.3" stroke-linecap="square"/>
<rect x="564.53" y="596.6" width="22.80" height="66.70" fill="#7a9ec2"/>
<rect x="564.53" y="596.6" width="22.80" height="66.70" fill="url(#nwb)"/>
<rect x="564.53" y="596.6" width="22.80" height="66.70" fill="none" stroke="#000" stroke-width="1.3"/>
<line x1="564.53" y1="627.3" x2="587.33" y2="627.3" stroke="#ff0000" stroke-width="1.3" stroke-linecap="square"/>
<line x1="621.53" y1="629.8" x2="621.53" y2="633.2" stroke="#000" stroke-width="1.3" stroke-linecap="square"/>
<line x1="621.53" y1="678.9" x2="621.53" y2="683.9" stroke="#000" stroke-width="1.3" stroke-linecap="square"/>
<line x1="615.83" y1="629.8" x2="627.23" y2="629.8" stroke="#000" stroke-width="1.3" stroke-linecap="square"/>
<line x1="615.83" y1="683.9" x2="627.23" y2="683.9" stroke="#000" stroke-width="1.3" stroke-linecap="square"/>
<rect x="610.13" y="633.2" width="22.80" height="45.70" fill="#add8e6"/>
<rect x="610.13" y="633.2" width="22.80" height="45.70" fill="url(#dotsb)"/>
<rect x="610.13" y="633.2" width="22.80" height="45.70" fill="none" stroke="#000" stroke-width="1.3"/>
<line x1="610.13" y1="654.5" x2="632.94" y2="654.5" stroke="#ff0000" stroke-width="1.3" stroke-linecap="square"/>
<line x1="667.14" y1="683.4" x2="667.14" y2="683.4" stroke="#000" stroke-width="1.3" stroke-linecap="square"/>
<line x1="667.14" y1="721.4" x2="667.14" y2="726.3" stroke="#000" stroke-width="1.3" stroke-linecap="square"/>
<line x1="661.44" y1="683.4" x2="672.84" y2="683.4" stroke="#000" stroke-width="1.3" stroke-linecap="square"/>
<line x1="661.44" y1="726.3" x2="672.84" y2="726.3" stroke="#000" stroke-width="1.3" stroke-linecap="square"/>
<rect x="655.74" y="683.4" width="22.80" height="38.00" fill="#add8e6"/>
<rect x="655.74" y="683.4" width="22.80" height="38.00" fill="url(#dotsb)"/>
<rect x="655.74" y="683.4" width="22.80" height="38.00" fill="none" stroke="#000" stroke-width="1.3"/>
<line x1="655.74" y1="706.8" x2="678.54" y2="706.8" stroke="#ff0000" stroke-width="1.3" stroke-linecap="square"/>
<circle cx="667.14" cy="631.1" r="3.9" fill="none" stroke="#000" stroke-width="1.3"/>
<line x1="712.75" y1="673.6" x2="712.75" y2="697.0" stroke="#000" stroke-width="1.3" stroke-linecap="square"/>
<line x1="712.75" y1="724.1" x2="712.75" y2="748.2" stroke="#000" stroke-width="1.3" stroke-linecap="square"/>
<line x1="707.05" y1="673.6" x2="718.45" y2="673.6" stroke="#000" stroke-width="1.3" stroke-linecap="square"/>
<line x1="707.05" y1="748.2" x2="718.45" y2="748.2" stroke="#000" stroke-width="1.3" stroke-linecap="square"/>
<rect x="701.35" y="697.0" width="22.80" height="27.10" fill="#add8e6"/>
<rect x="701.35" y="697.0" width="22.80" height="27.10" fill="url(#dotsb)"/>
<rect x="701.35" y="697.0" width="22.80" height="27.10" fill="none" stroke="#000" stroke-width="1.3"/>
<line x1="701.35" y1="719.5" x2="724.15" y2="719.5" stroke="#ff0000" stroke-width="1.3" stroke-linecap="square"/>
<line x1="758.36" y1="549.6" x2="758.36" y2="577.8" stroke="#000" stroke-width="1.3" stroke-linecap="square"/>
<line x1="758.36" y1="617.0" x2="758.36" y2="623.2" stroke="#000" stroke-width="1.3" stroke-linecap="square"/>
<line x1="752.65" y1="549.6" x2="764.06" y2="549.6" stroke="#000" stroke-width="1.3" stroke-linecap="square"/>
<line x1="752.65" y1="623.2" x2="764.06" y2="623.2" stroke="#000" stroke-width="1.3" stroke-linecap="square"/>
<rect x="746.95" y="577.8" width="22.80" height="39.20" fill="#add8e6"/>
<rect x="746.95" y="577.8" width="22.80" height="39.20" fill="url(#dotsb)"/>
<rect x="746.95" y="577.8" width="22.80" height="39.20" fill="none" stroke="#000" stroke-width="1.3"/>
<line x1="746.95" y1="589.4" x2="769.76" y2="589.4" stroke="#ff0000" stroke-width="1.3" stroke-linecap="square"/>
<rect x="51.7" y="530.3" width="729.6999999999999" height="425.80000000000007" fill="none" stroke="#262626" stroke-width="1.1"/>
<line x1="47.1" y1="802.60" x2="51.7" y2="802.60" stroke="#262626" stroke-width="1.05"/>
<line x1="49.0" y1="920.21" x2="51.7" y2="920.21" stroke="#262626" stroke-width="0.8"/>
<line x1="49.0" y1="889.28" x2="51.7" y2="889.28" stroke="#262626" stroke-width="0.8"/>
<line x1="49.0" y1="863.12" x2="51.7" y2="863.12" stroke="#262626" stroke-width="0.8"/>
<line x1="49.0" y1="840.46" x2="51.7" y2="840.46" stroke="#262626" stroke-width="0.8"/>
<line x1="49.0" y1="820.48" x2="51.7" y2="820.48" stroke="#262626" stroke-width="0.8"/>
<line x1="49.0" y1="684.99" x2="51.7" y2="684.99" stroke="#262626" stroke-width="0.8"/>
<line x1="49.0" y1="616.19" x2="51.7" y2="616.19" stroke="#262626" stroke-width="0.8"/>
<line x1="49.0" y1="567.38" x2="51.7" y2="567.38" stroke="#262626" stroke-width="0.8"/>
<text x="21.00" y="808.00" font-size="14.6" textLength="16.0" lengthAdjust="spacingAndGlyphs" class="tl">10</text>
<text x="42.00" y="803.00" text-anchor="end" font-size="10.3" class="tl">2</text>
<line x1="74.25" y1="956.1" x2="74.25" y2="960.7" stroke="#262626" stroke-width="1.05"/>
<text class="xt" transform="translate(76.09,977.59) rotate(-45)" text-anchor="middle" font-size="10.0">BS</text>
<line x1="119.86" y1="956.1" x2="119.86" y2="960.7" stroke="#262626" stroke-width="1.05"/>
<text class="xt" transform="translate(121.70,982.11) rotate(-45)" text-anchor="middle" font-size="10.0">BS_H</text>
<line x1="165.46" y1="956.1" x2="165.46" y2="960.7" stroke="#262626" stroke-width="1.05"/>
<text class="xt" transform="translate(167.30,982.11) rotate(-45)" text-anchor="middle" font-size="10.0">BS_R</text>
<line x1="211.07" y1="956.1" x2="211.07" y2="960.7" stroke="#262626" stroke-width="1.05"/>
<text class="xt" transform="translate(212.91,981.92) rotate(-45)" text-anchor="middle" font-size="10.0">BS_V</text>
<line x1="256.68" y1="956.1" x2="256.68" y2="960.7" stroke="#262626" stroke-width="1.05"/>
<text class="xt" transform="translate(258.52,978.18) rotate(-45)" text-anchor="middle" font-size="10.0">BM</text>
<line x1="302.28" y1="956.1" x2="302.28" y2="960.7" stroke="#262626" stroke-width="1.05"/>
<text class="xt" transform="translate(304.12,982.70) rotate(-45)" text-anchor="middle" font-size="10.0">BM_H</text>
<line x1="347.89" y1="956.1" x2="347.89" y2="960.7" stroke="#262626" stroke-width="1.05"/>
<text class="xt" transform="translate(349.73,982.70) rotate(-45)" text-anchor="middle" font-size="10.0">BM_R</text>
<line x1="393.50" y1="956.1" x2="393.50" y2="960.7" stroke="#262626" stroke-width="1.05"/>
<text class="xt" transform="translate(395.34,982.50) rotate(-45)" text-anchor="middle" font-size="10.0">BM_V</text>
<line x1="439.11" y1="956.1" x2="439.11" y2="960.7" stroke="#262626" stroke-width="1.05"/>
<text class="xt" transform="translate(440.95,977.20) rotate(-45)" text-anchor="middle" font-size="10.0">BL</text>
<line x1="484.71" y1="956.1" x2="484.71" y2="960.7" stroke="#262626" stroke-width="1.05"/>
<text class="xt" transform="translate(486.55,981.72) rotate(-45)" text-anchor="middle" font-size="10.0">BL_H</text>
<line x1="530.32" y1="956.1" x2="530.32" y2="960.7" stroke="#262626" stroke-width="1.05"/>
<text class="xt" transform="translate(532.16,981.72) rotate(-45)" text-anchor="middle" font-size="10.0">BL_R</text>
<line x1="575.93" y1="956.1" x2="575.93" y2="960.7" stroke="#262626" stroke-width="1.05"/>
<text class="xt" transform="translate(577.77,981.52) rotate(-45)" text-anchor="middle" font-size="10.0">BL_V</text>
<line x1="621.53" y1="956.1" x2="621.53" y2="960.7" stroke="#262626" stroke-width="1.05"/>
<text class="xt" transform="translate(623.37,982.50) rotate(-45)" text-anchor="middle" font-size="10.0">BSML</text>
<line x1="667.14" y1="956.1" x2="667.14" y2="960.7" stroke="#262626" stroke-width="1.05"/>
<text class="xt" transform="translate(668.98,987.02) rotate(-45)" text-anchor="middle" font-size="10.0">BSML_H</text>
<line x1="712.75" y1="956.1" x2="712.75" y2="960.7" stroke="#262626" stroke-width="1.05"/>
<text class="xt" transform="translate(714.59,987.02) rotate(-45)" text-anchor="middle" font-size="10.0">BSML_R</text>
<line x1="758.36" y1="956.1" x2="758.36" y2="960.7" stroke="#262626" stroke-width="1.05"/>
<text class="xt" transform="translate(760.20,986.83) rotate(-45)" text-anchor="middle" font-size="10.0">BSML_V</text>
<text x="367.7" y="1017.3" font-size="13.6" textLength="97.3" lengthAdjust="spacingAndGlyphs" class="al">Specimen type</text>
<text transform="translate(12.1,819.4) rotate(-90)" font-size="13.6" textLength="151.9" lengthAdjust="spacingAndGlyphs" class="al">Ultimate strength (kPa)</text>
<text x="3.4" y="546.20" font-size="22.6" style="stroke:none;fill:#000">(</text>
<text x="10.9" y="548.00" font-size="24.6" textLength="14.6" lengthAdjust="spacingAndGlyphs" style="stroke:none;fill:#000">b</text>
<text x="26.40" y="546.20" font-size="22.6" style="stroke:none;fill:#000">)</text>
</svg></body></html>
